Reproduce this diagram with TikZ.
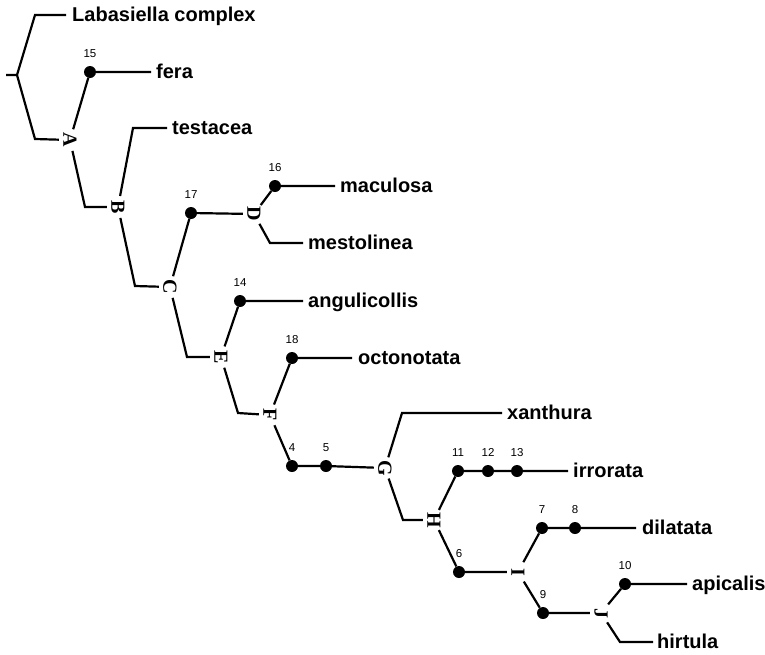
\documentclass[tikz,border=0pt]{standalone}
\usepackage{fontspec}
\setmainfont{Liberation Serif}
\newfontfamily\taxfont{Liberation Sans}
\begin{document}
\begin{tikzpicture}[x=1pt,y=-1pt,
  br/.style={line width=2.2pt},
  letter/.style={circle, minimum size=22pt, inner sep=0pt, rotate=-90, font=\bfseries\fontsize{20}{20}\selectfont},
  dot/.style={circle, fill=black, inner sep=0pt, minimum size=12pt},
  taxon/.style={anchor=base west, inner sep=0pt, font=\taxfont\bfseries\fontsize{20}{20}\selectfont},
  num/.style={inner sep=0pt, font=\taxfont\fontsize{11.5}{12}\selectfont}]
\useasboundingbox (0,0) rectangle (765,654);
% coordinates and nodes
\coordinate (tick) at (6,75);
\coordinate (r) at (17,75);
\coordinate (c0) at (35,15);
\coordinate (e0) at (66,15);
\coordinate (cR) at (35,139);
\node[letter] (nA) at (70,140) {A};
\node[dot] (d15) at (90,72) {};
\coordinate (e15) at (151,72);
\coordinate (cA) at (85,207);
\node[letter] (nB) at (118,207) {B};
\coordinate (cB) at (133,128);
\coordinate (eB) at (167,128);
\coordinate (cB2) at (135,286);
\node[letter] (nC) at (170,287) {C};
\node[dot] (d17) at (191,213) {};
\node[letter] (nD) at (254,214) {D};
\node[dot] (d16) at (275,186) {};
\coordinate (e16) at (335,186);
\coordinate (cD) at (270,243);
\coordinate (eD) at (303,243);
\coordinate (cC) at (187,357);
\node[letter] (nE) at (221,357) {E};
\node[dot] (d14) at (240,301) {};
\coordinate (e14) at (303,301);
\coordinate (cE) at (238,413);
\node[letter] (nF) at (270,415) {F};
\node[dot] (d18) at (292,358) {};
\coordinate (e18) at (352,358);
\node[dot] (d4) at (292,466) {};
\node[dot] (d5) at (326,466) {};
\node[letter] (nG) at (385,468) {G};
\coordinate (cG) at (402,413);
\coordinate (eG) at (502,413);
\coordinate (cG2) at (403,520);
\node[letter] (nH) at (434,520) {H};
\node[dot] (d11) at (458,471) {};
\node[dot] (d12) at (488,471) {};
\node[dot] (d13) at (517,471) {};
\coordinate (e13) at (568,471);
\node[dot] (d6) at (459,572) {};
\node[letter] (nI) at (518,572) {I};
\node[dot] (d7) at (542,528) {};
\node[dot] (d8) at (575,528) {};
\coordinate (e8) at (636,528);
\node[dot] (d9) at (543,613) {};
\node[letter] (nJ) at (601,613) {J};
\node[dot] (d10) at (625,584) {};
\coordinate (e10) at (687,584);
\coordinate (cJ) at (620,642);
\coordinate (eJ) at (653,642);
% taxon labels
\node[taxon] (tLab) at (72,21.5) {Labasiella complex};
\node[taxon] (tFer) at (156,78.5) {fera};
\node[taxon] (tTes) at (172,134.5) {testacea};
\node[taxon] (tMac) at (340,192.5) {maculosa};
\node[taxon] (tMes) at (308,249.5) {mestolinea};
\node[taxon] (tAng) at (308,307.5) {angulicollis};
\node[taxon] (tOct) at (358,364.5) {octonotata};
\node[taxon] (tXan) at (507,419.5) {xanthura};
\node[taxon] (tIrr) at (573,477.5) {irrorata};
\node[taxon] (tDil) at (642,534.5) {dilatata};
\node[taxon] (tApi) at (692,590.5) {apicalis};
\node[taxon] (tHir) at (657,648.5) {hirtula};
% numbers
\foreach \d/\t in {d15/15,d17/17,d16/16,d14/14,d18/18,d4/4,d5/5,d11/11,d12/12,d13/13,d6/6,d7/7,d8/8,d9/9,d10/10}
  \node[num] (n\t) at ([yshift=18.5pt]\d.center) {\t};
% branches
\draw[br] (tick) -- (r) -- (c0) -- (e0);
\draw[br] (r) -- (cR) -- (nA);
\draw[br] (nA) -- (d15) -- (e15);
\draw[br] (nA) -- (cA) -- (nB);
\draw[br] (nB) -- (cB) -- (eB);
\draw[br] (nB) -- (cB2) -- (nC);
\draw[br] (nC) -- (d17) -- (nD);
\draw[br] (nD) -- (d16) -- (e16);
\draw[br] (nD) -- (cD) -- (eD);
\draw[br] (nC) -- (cC) -- (nE);
\draw[br] (nE) -- (d14) -- (e14);
\draw[br] (nE) -- (cE) -- (nF);
\draw[br] (nF) -- (d18) -- (e18);
\draw[br] (nF) -- (d4) -- (d5) -- (nG);
\draw[br] (nG) -- (cG) -- (eG);
\draw[br] (nG) -- (cG2) -- (nH);
\draw[br] (nH) -- (d11) -- (d12) -- (d13) -- (e13);
\draw[br] (nH) -- (d6) -- (nI);
\draw[br] (nI) -- (d7) -- (d8) -- (e8);
\draw[br] (nI) -- (d9) -- (nJ);
\draw[br] (nJ) -- (d10) -- (e10);
\draw[br] (nJ) -- (cJ) -- (eJ);
\end{tikzpicture}
\end{document}
